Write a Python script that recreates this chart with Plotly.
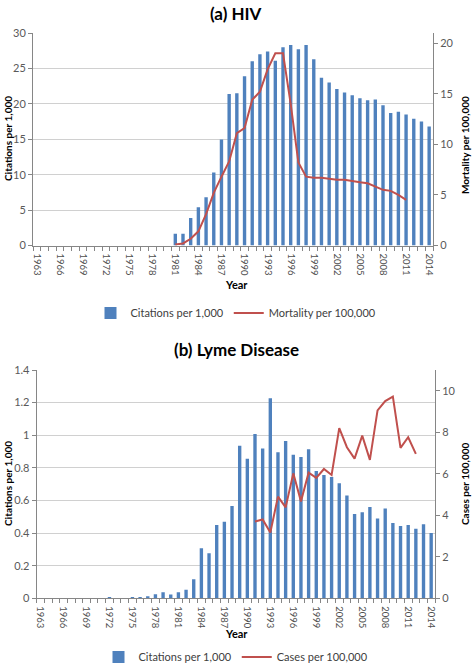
import plotly.graph_objects as go

years = list(range(1963, 2015))
tick_years = [1963, 1966, 1969, 1972, 1975, 1978, 1981, 1984, 1987, 1990,
              1993, 1996, 1999, 2002, 2005, 2008, 2011, 2014]

hiv_citations = [0] * 18 + [
    1.65, 1.65, 3.9, 5.4, 6.8, 10.3, 14.95, 21.4, 21.5, 23.9,
    26.0, 27.0, 27.4, 26.1, 28.0, 28.3, 27.7, 28.3, 26.3, 23.7,
    23.0, 22.1, 21.6, 21.2, 20.8, 20.5, 20.6, 19.8, 18.7, 18.9,
    18.5, 17.9, 17.5, 16.8]
hiv_mortality = [None] * 18 + [
    0.1, 0.2, 0.66, 1.4, 3.1, 5.2, 6.8, 8.3, 11.1, 11.6,
    14.4, 15.2, 17.4, 19.0, 19.0, 14.0, 8.2, 6.8, 6.7, 6.7,
    6.6, 6.5, 6.5, 6.35, 6.25, 6.15, 5.85, 5.5, 5.4, 5.0,
    4.5] + [None] * 3

lyme_citations = [0] * 9 + [
    0.004, 0, 0, 0.004, 0.006, 0.012, 0.025, 0.037, 0.024, 0.037,
    0.052, 0.117, 0.307, 0.276, 0.45, 0.47, 0.566, 0.936, 0.855, 1.008,
    0.918, 1.227, 0.896, 0.965, 0.881, 0.867, 0.914, 0.781, 0.756, 0.744,
    0.705, 0.63, 0.517, 0.527, 0.56, 0.49, 0.55, 0.462, 0.443, 0.449,
    0.427, 0.454, 0.40]
lyme_cases = [None] * 28 + [
    3.7, 3.8, 3.17, 4.9, 4.38, 6.02, 4.67, 6.05, 5.8, 6.23,
    5.94, 8.2, 7.28, 6.73, 7.84, 6.67, 9.05, 9.5, 9.72, 7.25,
    7.76, 6.96] + [None] * 2

W, H = 472, 664
BLUE = "#4F81BD"
RED = "#C0504D"
GRID = "#D0D0D0"
AXC = "#868686"
TXT = "#595959"
FONT = "Lato, 'Open Sans', sans-serif"


def px(y):
    return 1 - y / H


fig = go.Figure()

fig.add_trace(go.Bar(x=years, y=hiv_citations, name="Citations per 1,000",
                     marker_color=BLUE, marker_line_width=0,
                     xaxis="x", yaxis="y", legend="legend"))
fig.add_trace(go.Scatter(x=years, y=hiv_mortality, name="Mortality per 100,000",
                         mode="lines", line=dict(color=RED, width=2),
                         xaxis="x", yaxis="y2", legend="legend"))
fig.add_trace(go.Bar(x=years, y=lyme_citations, name="Citations per 1,000",
                     marker_color=BLUE, marker_line_width=0,
                     xaxis="x2", yaxis="y3", legend="legend2"))
fig.add_trace(go.Scatter(x=years, y=lyme_cases, name="Cases per 100,000",
                         mode="lines", line=dict(color=RED, width=2),
                         xaxis="x2", yaxis="y4", legend="legend2"))

xcommon = dict(range=[1962.5, 2014.5], tickmode="array", tickvals=tick_years,
               ticktext=[str(t) for t in tick_years], tickangle=90,
               ticks="", showline=True, linecolor=AXC, linewidth=1,
               showgrid=False, zeroline=False, automargin=False,
               ticklabelstandoff=5,
               tickfont=dict(size=9.5, color="#505050", family=FONT),
               minor=dict(tickmode="linear", tick0=1962.5, dtick=1,
                          ticks="outside", ticklen=4, tickcolor=AXC, showgrid=False))
ycommon = dict(showline=True, linecolor=AXC, linewidth=1, ticks="outside",
               ticklen=4, tickcolor=AXC, zeroline=False, automargin=False,
               tickfont=dict(size=11, color=TXT, family=FONT))

top_dom = [px(245.5), px(33)]
bot_dom = [px(598.3), px(370)]

fig.update_layout(
    width=W, height=H,
    margin=dict(l=0, r=0, t=0, b=0, autoexpand=False),
    paper_bgcolor="white", plot_bgcolor="white",
    bargap=0.56, showlegend=True,
    font=dict(family=FONT, color=TXT),
    xaxis=dict(domain=[33 / W, 433 / W], anchor="y", **xcommon),
    yaxis=dict(domain=top_dom, anchor="x", range=[0, 30], dtick=5,
               showgrid=True, gridcolor=GRID, gridwidth=1, **ycommon),
    yaxis2=dict(overlaying="y", side="right", anchor="x", range=[0, 21], dtick=5,
                showgrid=False, **ycommon),
    xaxis2=dict(domain=[36.7 / W, 435 / W], anchor="y3", **xcommon),
    yaxis3=dict(domain=bot_dom, anchor="x2", range=[0, 1.4], dtick=0.2,
                showgrid=True, gridcolor=GRID, gridwidth=1, **ycommon),
    yaxis4=dict(overlaying="y3", side="right", anchor="x2", range=[0, 11], dtick=2,
                showgrid=False, **ycommon),
    legend=dict(orientation="h", x=0.5, xanchor="center", y=px(313), yanchor="middle",
                font=dict(size=11, color="#404040", family=FONT),
                itemwidth=30, bgcolor="rgba(0,0,0,0)"),
    legend2=dict(orientation="h", x=0.5, xanchor="center", y=px(657), yanchor="middle",
                 font=dict(size=11, color="#404040", family=FONT),
                 itemwidth=30, bgcolor="rgba(0,0,0,0)"),
)

ann = []
ann.append(dict(text="<b>(a) HIV</b>", x=236 / W, y=px(13), xref="paper", yref="paper",
                xanchor="center", yanchor="middle",
                showarrow=False, font=dict(size=17, color="black", family=FONT)))
ann.append(dict(text="<b>(b) Lyme Disease</b>", x=236 / W, y=px(349), xref="paper", yref="paper",
                xanchor="center", yanchor="middle",
                showarrow=False, font=dict(size=17, color="black", family=FONT)))
for (txt, x, y) in [("Citations per 1,000", 8, 139), ("Mortality per 100,000", 465, 145),
                    ("Citations per 1,000", 8, 484), ("Cases per 100,000", 465, 484)]:
    ann.append(dict(text="<b>" + txt + "</b>", x=x / W, y=px(y), xref="paper", yref="paper",
                    xanchor="center", yanchor="middle",
                    textangle=-90, showarrow=False,
                    font=dict(size=10, color="black", family=FONT)))
for y in [284, 633]:
    ann.append(dict(text="<b>Year</b>", x=236 / W, y=px(y), xref="paper", yref="paper",
                    xanchor="center", yanchor="middle",
                    showarrow=False, font=dict(size=11, color="black", family=FONT)))
fig.update_layout(annotations=ann)

fig.write_html("out.html", config={"displayModeBar": False},
               post_script="document.body.style.margin='0';document.body.style.overflow='hidden';")
